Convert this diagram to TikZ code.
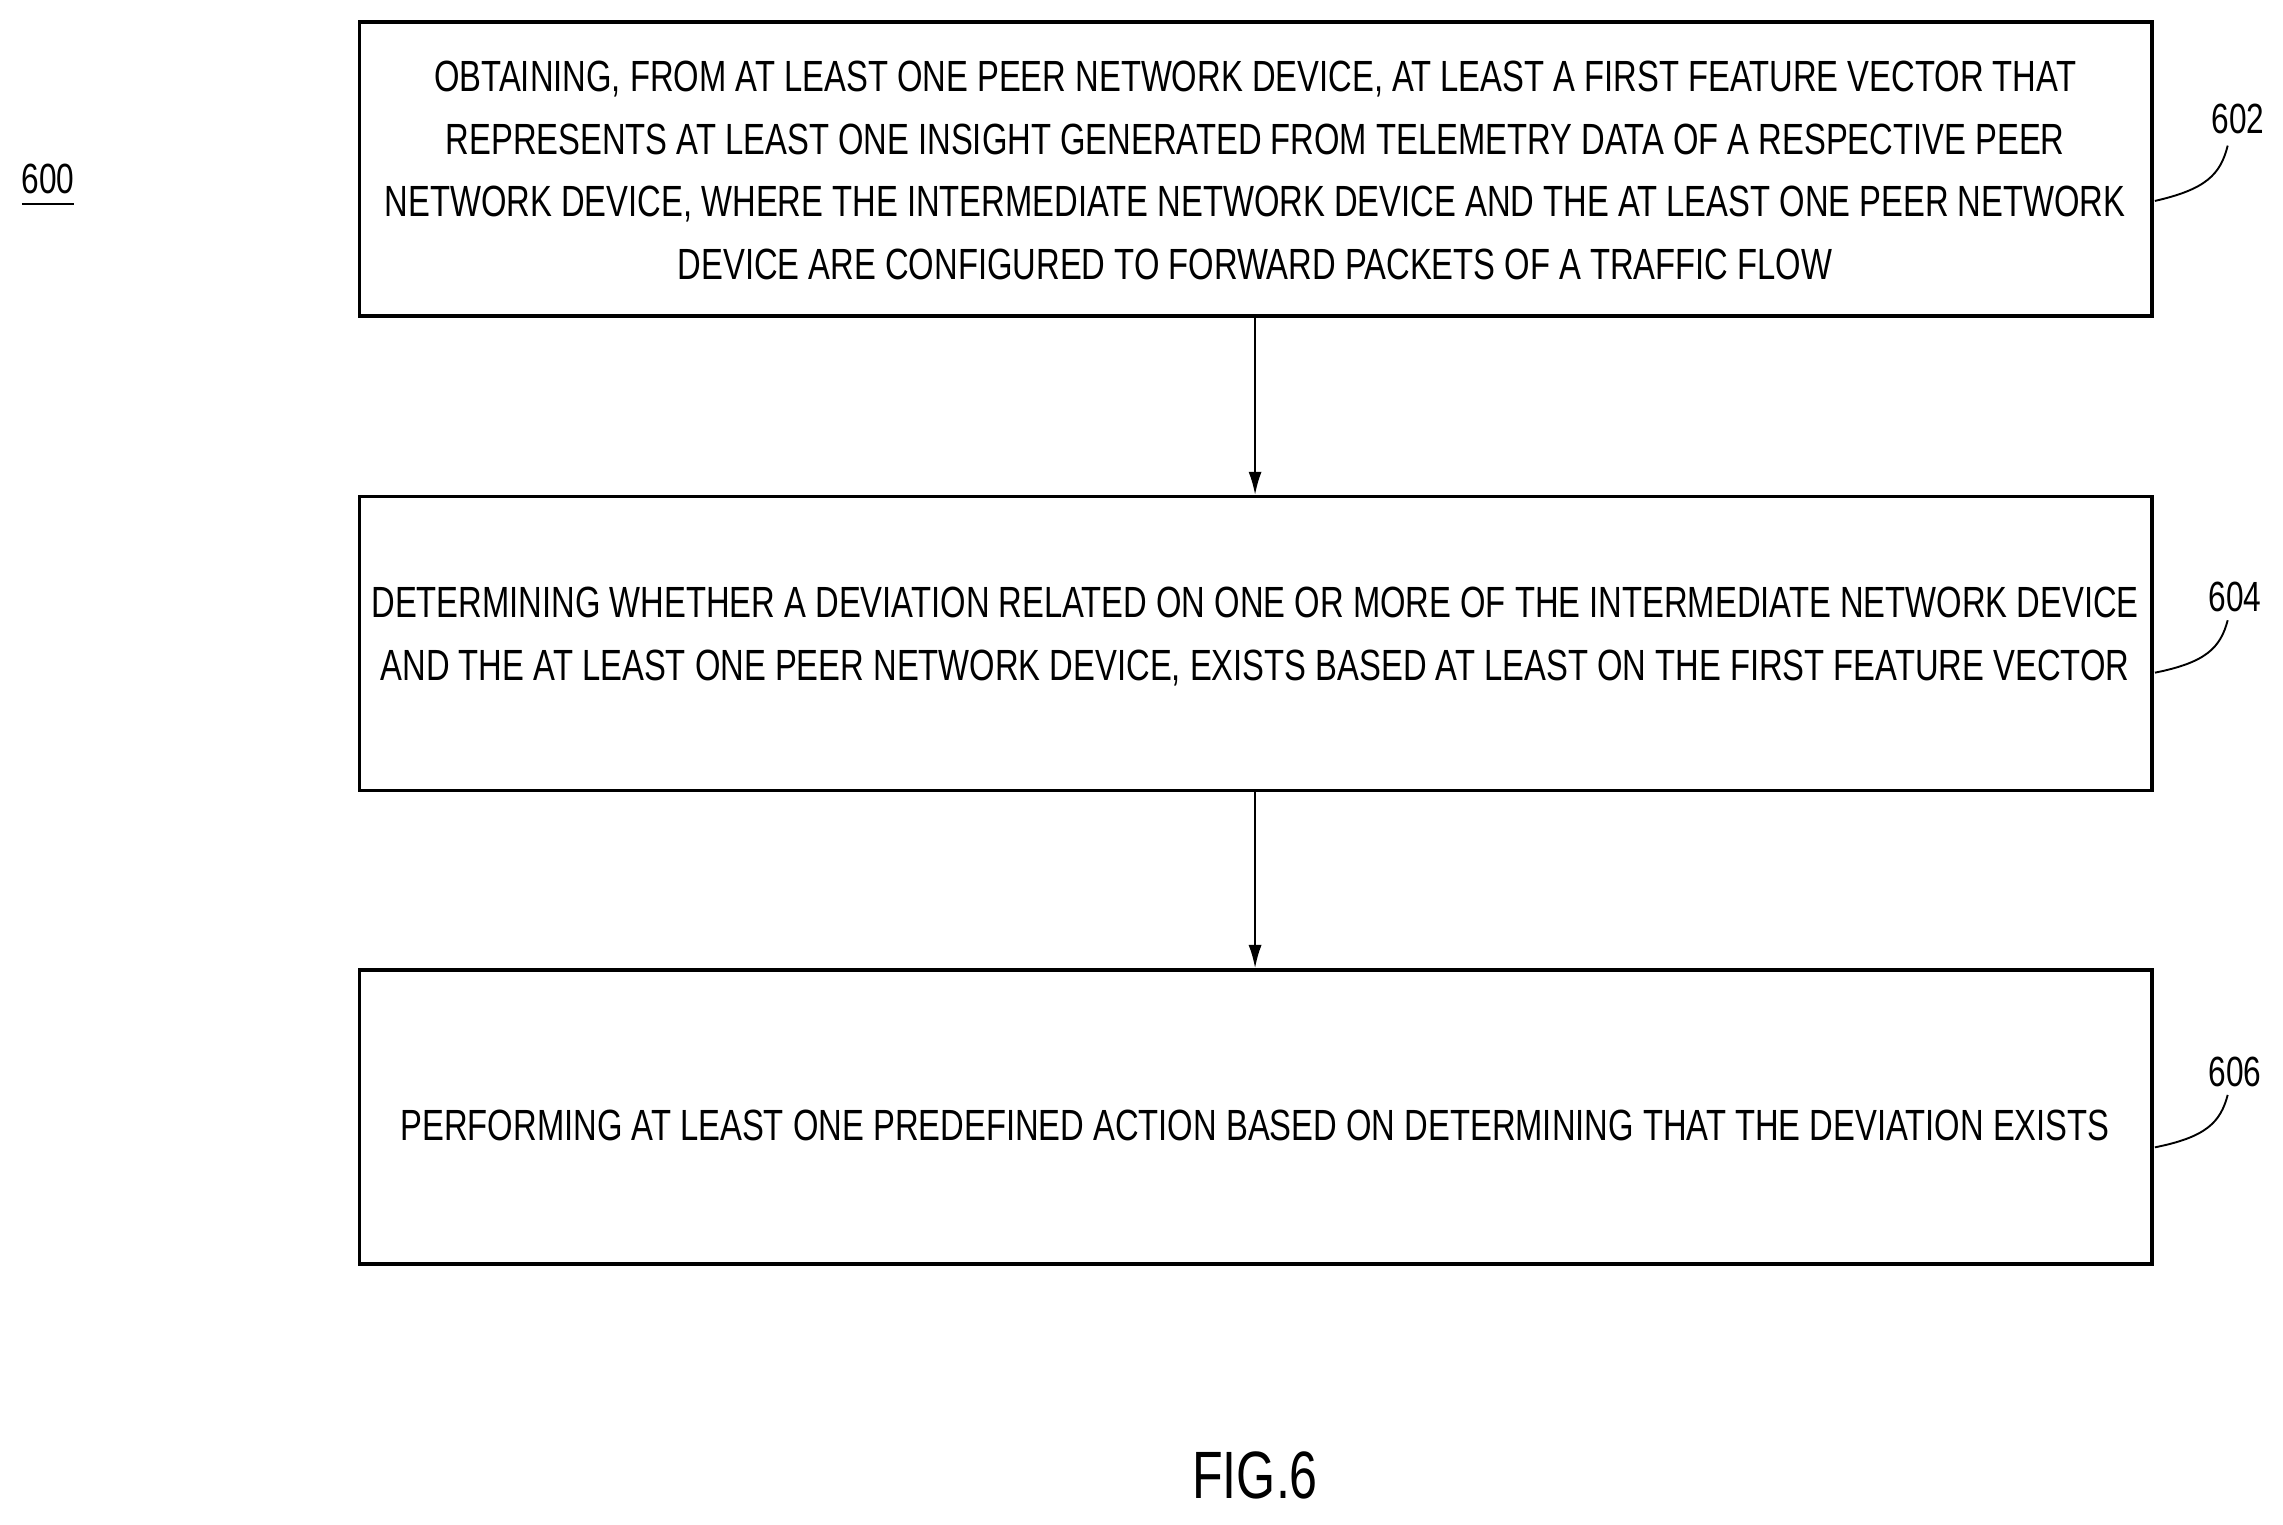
\documentclass[tikz,border=0pt]{standalone}
\usepackage{fontspec}
\setmainfont{Liberation Sans}[FakeStretch=0.75]
\usetikzlibrary{arrows.meta}
\begin{document}
\begin{tikzpicture}[x=1pt,y=-1pt,
  box/.style={draw,line width=2.5pt,inner sep=0pt},
  txt/.style={align=center,font=\fontsize{30}{43}\selectfont},
  lbl/.style={font=\fontsize{29}{30}\selectfont},
  arr/.style={line width=1.5pt,-{Latex[length=16pt,width=9pt]}},
  lead/.style={line width=1.3pt}]
\useasboundingbox (0,0) rectangle (1568,1047);
\draw[box] (247,15) rectangle (1478,217);
\draw[box] (247,341) rectangle (1478,543);
\draw[box] (247,666) rectangle (1478,868);
\node[txt] (t1) at (862,117) {OBTAINING, FROM AT LEAST ONE PEER NETWORK DEVICE, AT LEAST A FIRST FEATURE VECTOR THAT\\REPRESENTS AT LEAST ONE INSIGHT GENERATED FROM TELEMETRY DATA OF A RESPECTIVE PEER\\NETWORK DEVICE, WHERE THE INTERMEDIATE NETWORK DEVICE AND THE AT LEAST ONE PEER NETWORK\\DEVICE ARE CONFIGURED TO FORWARD PACKETS OF A TRAFFIC FLOW};
\node[txt] (t2) at (862,437) {DETERMINING WHETHER A DEVIATION RELATED ON ONE OR MORE OF THE INTERMEDIATE NETWORK DEVICE\\AND THE AT LEAST ONE PEER NETWORK DEVICE, EXISTS BASED AT LEAST ON THE FIRST FEATURE VECTOR};
\node[txt] (t3) at (862,773) {PERFORMING AT LEAST ONE PREDEFINED ACTION BASED ON DETERMINING THAT THE DEVIATION EXISTS};
\coordinate (b1) at (862,218); \coordinate (b2t) at (862,340);
\coordinate (b2) at (862,544); \coordinate (b3t) at (862,665);
\draw[arr] (b1) -- (b2t);
\draw[arr] (b2) -- (b3t);
\node[lbl] (l602) at (1537,82) {602};
\node[lbl] (l604) at (1535,410) {604};
\node[lbl] (l606) at (1535,736) {606};
\draw[lead] (1480,138) .. controls (1515,130) and (1525,120) .. (1530,100);
\draw[lead] (1480,462) .. controls (1515,455) and (1525,445) .. (1530,426);
\draw[lead] (1480,788) .. controls (1515,781) and (1525,771) .. (1530,752);
\node[lbl] (l600) at (33,123) {600};
\draw[line width=1.3pt] (15,140) -- (51,140);
\node[font=\fontsize{46}{48}\selectfont] (fig) at (862,1013) {FIG.6};
\end{tikzpicture}
\end{document}
